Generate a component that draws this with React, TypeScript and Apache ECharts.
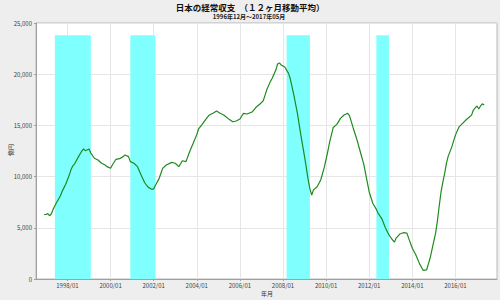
import React, { useEffect, useRef } from "react";
import * as echarts from "echarts";

const titleText = "日本の経常収支　（１２ヶ月移動平均）";
const subtitleText = "1996年12月～2017年05月";
const yAxisName = "億円";
const xAxisName = "年月";

const months = [
  "1996/12", "1997/01", "1997/02", "1997/03", "1997/04", "1997/05", "1997/06", "1997/07", "1997/08", "1997/09",
  "1997/10", "1997/11", "1997/12", "1998/01", "1998/02", "1998/03", "1998/04", "1998/05", "1998/07", "1998/09",
  "1998/10", "1998/11", "1999/01", "1999/02", "1999/04", "1999/06", "1999/08", "1999/10", "1999/11", "2000/01",
  "2000/02", "2000/04", "2000/06", "2000/08", "2000/09", "2000/11", "2000/12", "2001/02", "2001/04", "2001/06",
  "2001/08", "2001/10", "2001/12", "2002/01", "2002/02", "2002/04", "2002/05", "2002/06", "2002/08", "2002/11",
  "2003/01", "2003/03", "2003/05", "2003/07", "2003/09", "2003/11", "2004/01", "2004/02", "2004/04", "2004/06",
  "2004/08", "2004/10", "2004/12", "2005/02", "2005/04", "2005/07", "2005/09", "2005/11", "2006/01", "2006/03",
  "2006/05", "2006/08", "2006/10", "2006/12", "2007/02", "2007/04", "2007/06", "2007/07", "2007/09", "2007/10",
  "2007/11", "2007/12", "2008/02", "2008/04", "2008/05", "2008/07", "2008/09", "2008/11", "2009/01", "2009/02",
  "2009/03", "2009/04", "2009/05", "2009/06", "2009/08", "2009/10", "2009/12", "2010/02", "2010/03", "2010/05",
  "2010/07", "2010/09", "2010/11", "2011/01", "2011/02", "2011/04", "2011/06", "2011/08", "2011/10", "2011/11",
  "2012/01", "2012/03", "2012/05", "2012/06", "2012/08", "2012/10", "2012/12", "2013/01", "2013/03", "2013/04",
  "2013/06", "2013/08", "2013/10", "2013/11", "2014/01", "2014/03", "2014/05", "2014/07", "2014/09", "2014/10",
  "2014/11", "2015/01", "2015/02", "2015/03", "2015/04", "2015/05", "2015/06", "2015/07", "2015/08", "2015/09",
  "2015/11", "2016/01", "2016/03", "2016/05", "2016/07", "2016/10", "2016/11", "2017/01", "2017/02", "2017/03",
  "2017/04", "2017/05",
];

const values = [
  6300, 6300, 6380, 6180, 6350, 6800, 7150, 7500, 7780, 8100,
  8550, 8900, 9250, 9700, 10150, 10700, 11050, 11250, 11900, 12500,
  12700, 12530, 12700, 12300, 11790, 11620, 11300, 11130, 10970, 10810,
  11130, 11690, 11750, 11950, 12110, 11950, 11460, 11300, 10970, 10160,
  9400, 8950, 8760, 8800, 9150, 9800, 10300, 10800, 11130, 11390,
  11300, 10970, 11550, 11460, 12430, 13250, 14100, 14650, 15100, 15590,
  16020, 16180, 16410, 16180, 16020, 15590, 15360, 15430, 15630, 16180,
  16110, 16340, 16770, 17060, 17400, 18500, 19300, 19600, 20400, 21000,
  21100, 20900, 20700, 20100, 19600, 18000, 16200, 14000, 11950, 10850,
  9700, 8800, 8200, 8700, 9010, 9670, 10900, 12500, 13400, 14800,
  15100, 15690, 16020, 16180, 15950, 14800, 13700, 12450, 11200, 10300,
  8500, 7400, 6800, 6400, 5900, 5000, 4300, 4050, 3600, 4000,
  4390, 4520, 4480, 3970, 3000, 2340, 1500, 850, 900, 1500,
  2100, 3700, 4500, 5700, 7150, 8500, 9450, 10300, 11300, 12000,
  12900, 14050, 14850, 15200, 15550, 16000, 16500, 16900, 16600, 16900,
  17100, 17000,
];

const recessionStart = ["1997/06", "2000/12", "2008/03", "2012/05"];
const recessionEnd = ["1999/01", "2002/01", "2009/03", "2012/11"];
const recessionTop = 23800;

const xTickYears = [1998, 2000, 2002, 2004, 2006, 2008, 2010, 2012, 2014, 2016];
const yTicks = [0, 5000, 10000, 15000, 20000, 25000];

function toYear(s: string): number {
  const [y, m] = s.split("/").map(Number);
  return y + (m - 1) / 12;
}

export default function App() {
  const ref = useRef<HTMLDivElement>(null);

  useEffect(() => {
    if (!ref.current) return;
    const chart = echarts.init(ref.current, null, { renderer: "svg" });
    const font = "'Noto Sans CJK JP', 'Noto Sans', sans-serif";
    chart.setOption({
      animation: false,
      backgroundColor: "#eeeeee",
      textStyle: { fontFamily: font },
      graphic: [
        {
          type: "text",
          x: 250,
          y: 6.5,
          style: {
            text: titleText,
            fontSize: 8.5,
            fontWeight: "bold",
            fill: "#111",
            fontFamily: font,
            align: "center",
            verticalAlign: "middle",
          },
        },
        {
          type: "text",
          x: 249,
          y: 16.5,
          style: {
            text: subtitleText,
            fontSize: 6,
            fontWeight: "bold",
            fill: "#222",
            fontFamily: font,
            align: "center",
            verticalAlign: "middle",
          },
        },
        {
          type: "text",
          x: 10,
          y: 150,
          rotation: Math.PI / 2,
          style: {
            text: yAxisName,
            fontSize: 6,
            fill: "#333",
            fontFamily: font,
            align: "center",
            verticalAlign: "middle",
          },
        },
        {
          type: "text",
          x: 267,
          y: 293,
          style: {
            text: xAxisName,
            fontSize: 6,
            fill: "#333",
            fontFamily: font,
            align: "center",
            verticalAlign: "middle",
          },
        },
      ],
      grid: {
        left: 36,
        right: 3,
        top: 23,
        bottom: 21,
        outerBoundsMode: "none",
        containLabel: false,
        show: true,
        backgroundColor: "#ffffff",
        borderColor: "#b8b8b8",
        borderWidth: 1,
      },
      xAxis: {
        type: "value",
        min: 1996.54,
        max: 2017.93,
        axisLine: { show: true, lineStyle: { color: "#a0a0a0", width: 1 } },
        axisTick: { show: true, length: 2, customValues: xTickYears, lineStyle: { color: "#a0a0a0" } },
        axisLabel: {
          customValues: xTickYears,
          fontSize: 6,
          color: "#444",
          margin: 3,
          formatter: (v: number) => `${Math.round(v)}/01`,
        },
        splitLine: { show: true, customValues: xTickYears, lineStyle: { color: "#e6e6e6", width: 1 } },
      },
      yAxis: {
        type: "value",
        min: 0,
        max: 25000,
        interval: 5000,
        axisLine: { show: true, lineStyle: { color: "#a0a0a0", width: 1 } },
        axisTick: { show: true, length: 2, lineStyle: { color: "#a0a0a0" } },
        axisLabel: {
          fontSize: 6,
          color: "#444",
          margin: 4,
          customValues: yTicks,
          formatter: (v: number) => v.toLocaleString("en-US"),
        },
        splitLine: { show: true, lineStyle: { color: "#e6e6e6", width: 1 } },
      },
      series: [
        {
          type: "line",
          data: months.map((m, i) => [toYear(m), values[i]]),
          showSymbol: false,
          smooth: false,
          lineStyle: { color: "#1f8a1f", width: 1.2 },
          itemStyle: { color: "#1f8a1f" },
          z: 3,
          markArea: {
            silent: true,
            itemStyle: { color: "#80ffff", opacity: 1 },
            data: recessionStart.map((s, i) => [
              { xAxis: toYear(s), yAxis: 0 },
              { xAxis: toYear(recessionEnd[i]) + 1 / 12, yAxis: recessionTop },
            ]),
          },
        },
      ],
    });
    return () => chart.dispose();
  }, []);

  return (
    <div
      ref={ref}
      style={{ position: "fixed", left: 0, top: 0, width: 500, height: 300 }}
    />
  );
}
